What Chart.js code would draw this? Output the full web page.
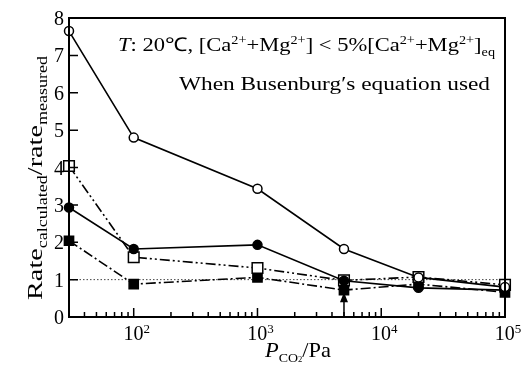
<!DOCTYPE html>
<html>
<head>
<meta charset="utf-8">
<script src="https://cdn.jsdelivr.net/npm/chart.js@4/dist/chart.umd.min.js"></script>
<style>
  html, body { margin: 0; padding: 0; background: #fff; }
  #wrap { width: 522px; height: 369px; position: relative; }
</style>
</head>
<body>
<div id="wrap"><canvas id="chart"></canvas></div>
<script>
// data
const pressures = [30, 100, 1000, 5000, 20000, 100000];
const openCircle = [7.65, 4.8, 3.43, 1.82, 1.06, 0.8];
const filledCircle = [2.93, 1.82, 1.93, 0.97, 0.78, 0.72];
const openSquare = [4.04, 1.6, 1.31, 0.98, 1.07, 0.86];
const filledSquare = [2.04, 0.88, 1.06, 0.72, 0.88, 0.66];
const yTicks = [0, 1, 2, 3, 4, 5, 6, 7, 8];
const xMajor = [100, 1000, 10000, 100000];
const xMinor = [40, 50, 60, 70, 80, 90, 200, 300, 400, 500, 600, 700, 800, 900,
  2000, 3000, 4000, 5000, 6000, 7000, 8000, 9000, 20000, 30000, 40000, 50000, 60000, 70000, 80000, 90000];
const refLine = 1;
const arrowAt = 5000;
const arrowTop = 0.66;

const serif = '"Liberation Serif", "Times New Roman", serif';

function pts(ys) {
  return pressures.map((p, i) => ({ x: p, y: ys[i] }));
}

// text pieces with sub/superscripts
function setFont(ctx, p) {
  ctx.font = (p.italic ? 'italic ' : '') + (p.size || 19) + 'px ' + serif;
}
function runsWidth(ctx, parts) {
  let w = 0;
  parts.forEach(p => { setFont(ctx, p); w += ctx.measureText(p.t).width; });
  return w;
}
function runs(ctx, x, y, parts) {
  parts.forEach(p => {
    setFont(ctx, p);
    const dy = p.sup ? -7 : (p.sub ? 5 : 0);
    ctx.fillText(p.t, x, y + dy);
    x += ctx.measureText(p.t).width;
  });
}
// the original uses a wider face, so stretch to the width seen there
function runsFit(ctx, x, y, parts, width) {
  const sx = width / runsWidth(ctx, parts);
  ctx.save();
  ctx.translate(x, y);
  ctx.scale(sx, 1);
  runs(ctx, 0, 0, parts);
  ctx.restore();
}

const decorations = {
  id: 'decorations',
  beforeDatasetsDraw(chart) {
    const { ctx, chartArea: a, scales: { y } } = chart;
    ctx.save();
    ctx.strokeStyle = '#444';
    ctx.lineWidth = 1;
    ctx.setLineDash([1.5, 2]);
    ctx.beginPath();
    ctx.moveTo(a.left, y.getPixelForValue(refLine));
    ctx.lineTo(a.right, y.getPixelForValue(refLine));
    ctx.stroke();
    ctx.restore();
  },
  afterDatasetsDraw(chart) {
    const { ctx, chartArea: a, scales: { x, y } } = chart;
    ctx.save();
    ctx.strokeStyle = '#000';
    ctx.fillStyle = '#000';
    ctx.lineWidth = 2;
    ctx.strokeRect(a.left, a.top, a.right - a.left, a.bottom - a.top);

    // inner ticks
    ctx.lineWidth = 1.5;
    ctx.beginPath();
    xMajor.forEach(v => {
      const px = x.getPixelForValue(v);
      ctx.moveTo(px, a.bottom); ctx.lineTo(px, a.bottom - 9);
    });
    xMinor.forEach(v => {
      const px = x.getPixelForValue(v);
      ctx.moveTo(px, a.bottom); ctx.lineTo(px, a.bottom - 5);
    });
    yTicks.forEach(v => {
      const py = y.getPixelForValue(v);
      ctx.moveTo(a.left, py); ctx.lineTo(a.left + 9, py);
    });
    ctx.stroke();

    // arrow
    const ax = x.getPixelForValue(arrowAt);
    const atop = y.getPixelForValue(arrowTop);
    ctx.beginPath();
    ctx.moveTo(ax, a.bottom); ctx.lineTo(ax, atop + 8);
    ctx.stroke();
    ctx.beginPath();
    ctx.moveTo(ax, atop); ctx.lineTo(ax - 4, atop + 10); ctx.lineTo(ax + 4, atop + 10);
    ctx.closePath(); ctx.fill();

    // tick labels
    ctx.font = '20px ' + serif;
    ctx.textAlign = 'right';
    yTicks.forEach(v => {
      ctx.fillText(String(v), a.left - 5, y.getPixelForValue(v) + 7);
    });
    ctx.textAlign = 'left';
    xMajor.forEach(v => {
      const exp = Math.round(Math.log10(v));
      const parts = [{ t: '10', size: 20 }, { t: String(exp), size: 13, sup: true }];
      const w = runsWidth(ctx, parts);
      runs(ctx, x.getPixelForValue(v) - w / 2 + 3, a.bottom + 23, parts);
    });

    // axis titles
    const xt = [{ t: 'P', size: 21, italic: true }, { t: 'CO', size: 13, sub: true },
      { t: '2', size: 8, sub: true }, { t: '/Pa', size: 21 }];
    runsFit(ctx, 265, 357, xt, 66);

    ctx.save();
    ctx.translate(42, 178);
    ctx.rotate(-Math.PI / 2);
    const yt = [{ t: 'Rate', size: 22 }, { t: 'calculated', size: 14, sub: true },
      { t: '/rate', size: 22 }, { t: 'measured', size: 14, sub: true }];
    runsFit(ctx, -122, 0, yt, 244);
    ctx.restore();

    // annotation
    const line1 = [{ t: 'T', italic: true }, { t: ': 20℃, [Ca' }, { t: '2+', size: 12, sup: true },
      { t: '+Mg' }, { t: '2+', size: 12, sup: true }, { t: '] < 5%[Ca' }, { t: '2+', size: 12, sup: true },
      { t: '+Mg' }, { t: '2+', size: 12, sup: true }, { t: ']' }, { t: 'eq', size: 12, sub: true }];
    runsFit(ctx, 118, 51, line1, 377);
    runsFit(ctx, 179, 90, [{ t: 'When Busenburg′s equation used' }], 311);
    ctx.restore();
  }
};

const base = {
  borderColor: '#000',
  borderWidth: 1.6,
  pointBorderColor: '#000',
  pointBorderWidth: 1.5,
  tension: 0,
  clip: false
};

new Chart(document.getElementById('chart'), {
  type: 'line',
  data: {
    datasets: [
      Object.assign({}, base, { label: 'open circle', data: pts(openCircle),
        pointStyle: 'circle', pointRadius: 4.5, pointBackgroundColor: '#fff' }),
      Object.assign({}, base, { label: 'filled circle', data: pts(filledCircle),
        pointStyle: 'circle', pointRadius: 4.5, pointBackgroundColor: '#000' }),
      Object.assign({}, base, { label: 'open square', data: pts(openSquare), borderDash: [10, 3, 2, 3, 2, 3],
        pointStyle: 'rect', pointRadius: 7.5, pointBackgroundColor: '#fff' }),
      Object.assign({}, base, { label: 'filled square', data: pts(filledSquare), borderDash: [10, 3, 2, 3],
        pointStyle: 'rect', pointRadius: 6.5, pointBackgroundColor: '#000' })
    ]
  },
  options: {
    responsive: true,
    maintainAspectRatio: false,
    animation: false,
    layout: { padding: { left: 69, right: 17, top: 18, bottom: 52 } },
    plugins: { legend: { display: false }, tooltip: { enabled: false } },
    scales: {
      x: {
        type: 'logarithmic', min: 30, max: 100000,
        ticks: { display: false },
        grid: { display: false, drawTicks: false },
        border: { display: false }
      },
      y: {
        min: 0, max: 8,
        ticks: { display: false },
        grid: { display: false, drawTicks: false },
        border: { display: false }
      }
    }
  },
  plugins: [decorations]
});
</script>
</body>
</html>
